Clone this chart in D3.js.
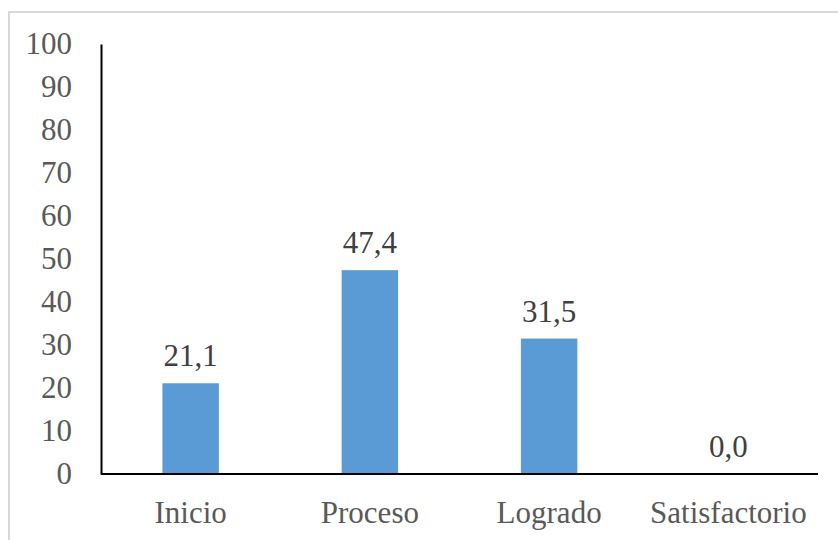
<!DOCTYPE html>
<html><head><meta charset="utf-8">
<script src="https://cdn.jsdelivr.net/npm/d3@7"></script>
<style>body{margin:0;background:#fff}svg{display:block}text{font-family:"Liberation Serif","Times New Roman",serif}</style>
</head><body>
<script>
const categories = ["Inicio", "Proceso", "Logrado", "Satisfactorio"];
const values = [21.1, 47.4, 31.5, 0.0];
const yTicks = [0, 10, 20, 30, 40, 50, 60, 70, 80, 90, 100];

(function () {
const W = 838, H = 540;
const svg = d3.select("body").append("svg").attr("width", W).attr("height", H);
svg.append("rect").attr("x", 9).attr("y", 12).attr("width", W + 10).attr("height", H + 10)
  .attr("fill", "#fff").attr("stroke", "#D9D9D9").attr("stroke-width", 2);

const mL = 101, mR = 818, mT = 44, mB = 474;
const x = d3.scaleBand().domain(categories).range([mL, mR]).paddingInner(0.685).paddingOuter(0.3425);
const y = d3.scaleLinear().domain([0, 100]).range([mB, mT]);
const fs = 31;

svg.selectAll("rect.bar").data(values).enter().append("rect").attr("class", "bar")
  .attr("x", (d, i) => x(categories[i])).attr("width", x.bandwidth())
  .attr("y", d => y(d)).attr("height", d => y(0) - y(d)).attr("fill", "#5B9BD5");

const yAxis = d3.axisLeft(y).tickValues(yTicks).tickSize(0).tickPadding(29).tickFormat(d3.format("d"));
const gy = svg.append("g").attr("transform", `translate(${mL},0)`).call(yAxis);
gy.select(".domain").attr("stroke", "#000").attr("stroke-width", 2);
gy.selectAll("text").attr("font-family", null).attr("font-size", fs).attr("fill", "#595959");
gy.attr("font-family", null);

const xAxis = d3.axisBottom(x).tickSize(0).tickPadding(27);
const gx = svg.append("g").attr("transform", `translate(0,${mB})`).call(xAxis);
gx.attr("font-family", null);
gx.select(".domain").attr("stroke", "#000").attr("stroke-width", 2).attr("d", `M${mL},0H${mR}`);
gx.selectAll("text").attr("font-size", fs).attr("fill", "#595959");

svg.selectAll("text.lbl").data(values).enter().append("text").attr("class", "lbl")
  .attr("x", (d, i) => x(categories[i]) + x.bandwidth() / 2).attr("y", d => y(d) - 17)
  .attr("text-anchor", "middle").attr("font-size", fs).attr("fill", "#404040")
  .text(d => d.toFixed(1).replace(".", ","));
})();
</script>
</body></html>
